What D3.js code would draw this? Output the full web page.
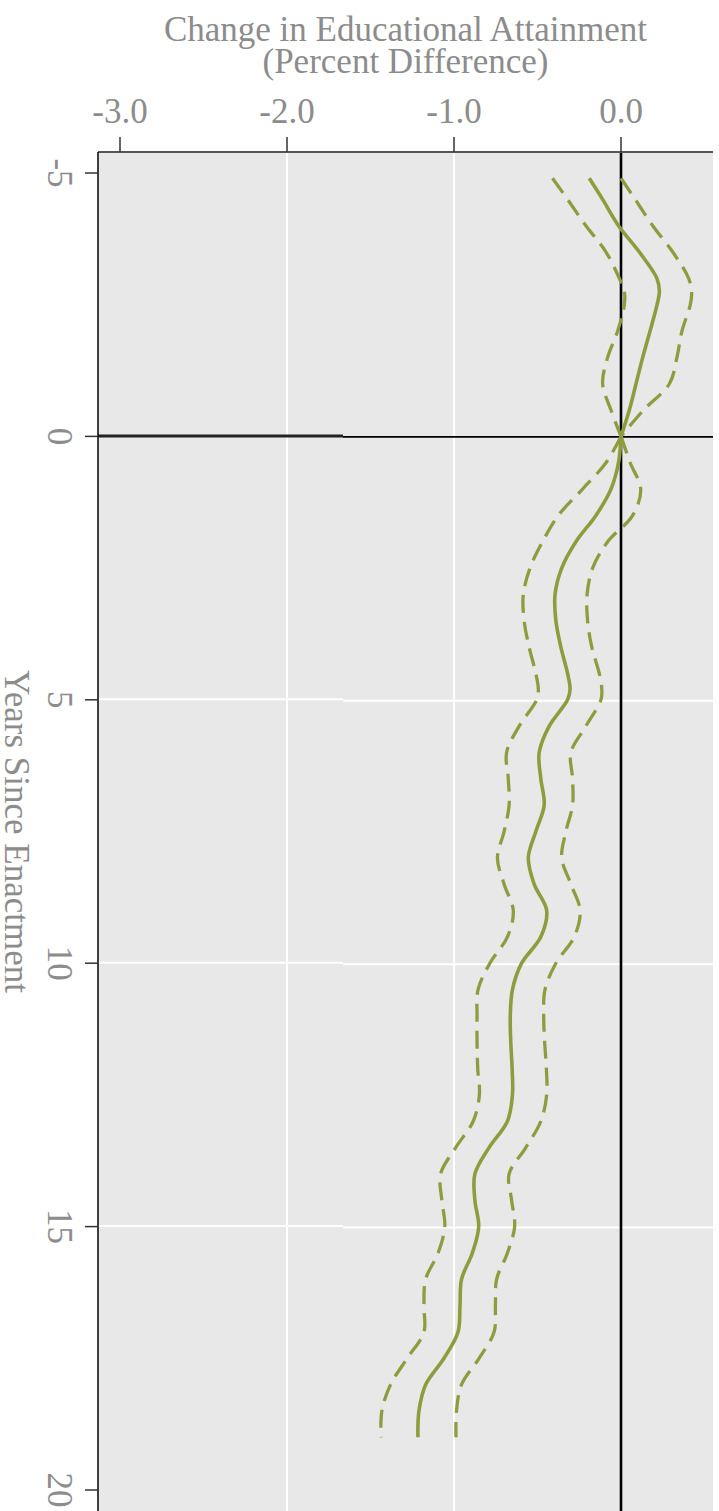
<!DOCTYPE html>
<html>
<head>
<meta charset="utf-8">
<script src="https://cdn.jsdelivr.net/npm/d3@7"></script>
<style>
  html, body { margin: 0; padding: 0; background: #ffffff; }
  svg { display: block; }
  text { font-family: "Liberation Serif", "Times New Roman", serif; fill: #8c8c8c; }
</style>
</head>
<body>
<svg id="chart" width="719" height="1511"></svg>
<script>
// ---------------- data ----------------
const years = [-4.9, -4.5, -4.0, -3.5, -3.0, -2.75, -2.5, -2.0, -1.5, -1.0, -0.5, 0,
  0.5, 1.0, 1.5, 2.0, 2.5, 3.0, 3.5, 4.0, 4.5, 4.8, 5.0, 5.5, 6.0, 6.5, 7.0, 7.5, 8.0, 8.5,
  9.0, 9.5, 10.0, 10.5, 11.0, 11.5, 12.0, 12.5, 13.0, 13.5, 14.0, 14.5, 15.0, 15.5, 16.0,
  16.5, 17.0, 17.5, 18.0, 18.5, 19.0];
const estimate = [-0.19, -0.11, -0.015, 0.11, 0.215, 0.23, 0.216, 0.174, 0.13, 0.09, 0.05, 0.0,
  -0.015, -0.06, -0.15, -0.27, -0.355, -0.395, -0.39, -0.36, -0.32, -0.305, -0.32, -0.43, -0.49, -0.48, -0.46, -0.51, -0.555, -0.52,
  -0.445, -0.48, -0.595, -0.65, -0.663, -0.66, -0.652, -0.65, -0.68, -0.79, -0.875, -0.875, -0.852, -0.89, -0.955,
  -0.964, -0.976, -1.06, -1.17, -1.21, -1.216];
const lower = [-0.41, -0.32, -0.21, -0.09, -0.01, 0.02, 0.02, -0.02, -0.08, -0.11, -0.06, 0.0,
  -0.09, -0.23, -0.375, -0.47, -0.545, -0.585, -0.58, -0.55, -0.51, -0.495, -0.505, -0.61, -0.685, -0.675, -0.67, -0.70, -0.74, -0.70,
  -0.645, -0.68, -0.785, -0.856, -0.862, -0.862, -0.858, -0.848, -0.885, -0.99, -1.08, -1.073, -1.055, -1.095, -1.17,
  -1.18, -1.18, -1.28, -1.38, -1.432, -1.437];
const upper = [0.0, 0.085, 0.19, 0.31, 0.405, 0.423, 0.415, 0.365, 0.335, 0.29, 0.135, 0.0,
  0.055, 0.118, 0.07, -0.08, -0.17, -0.203, -0.20, -0.175, -0.13, -0.115, -0.12, -0.21, -0.30, -0.29, -0.29, -0.33, -0.355, -0.30,
  -0.245, -0.28, -0.39, -0.455, -0.463, -0.457, -0.447, -0.445, -0.48, -0.57, -0.67, -0.655, -0.637, -0.68, -0.745,
  -0.752, -0.76, -0.85, -0.955, -0.985, -0.988];
const valueTicks = [-3.0, -2.0, -1.0, 0.0];
const valueTickLabels = ["-3.0", "-2.0", "-1.0", "0.0"];
const yearTicks = [-5, 0, 5, 10, 15, 20];
const yearTickLabels = ["-5", "0", "5", "10", "15", "20"];
const gridValues = [-2.0, -1.0];
const gridYears = [5, 10, 15];
const titleLines = ["Change in Educational Attainment", "(Percent Difference)"];
const yTitle = "Years Since Enactment";

// ---------------- layout ----------------
const svg = d3.select("#chart");
const plot = { left: 98, right: 713, top: 152, bottom: 1511 };
const x = d3.scaleLinear().domain([0, 1]).range([621, 788]);
const y = d3.scaleLinear().domain([-5, 20]).range([173, 1490]);
const olive = "#8f9c3e";
const fs = 35;

// background
svg.append("rect")
  .attr("x", plot.left).attr("y", plot.top)
  .attr("width", plot.right - plot.left).attr("height", plot.bottom - plot.top)
  .attr("fill", "#e8e8e8");

// vertical gridlines
svg.selectAll("line.vgrid").data(gridValues).enter().append("line")
  .attr("x1", d => x(d)).attr("x2", d => x(d))
  .attr("y1", plot.top).attr("y2", plot.bottom)
  .attr("stroke", "#ffffff").attr("stroke-width", 2);

// horizontal gridlines (rendered in two slightly offset pieces, as in the source)
const splitX = 343;
svg.selectAll("line.hgridL").data(gridYears).enter().append("line")
  .attr("x1", plot.left).attr("x2", splitX)
  .attr("y1", d => y(d) - 0.5).attr("y2", d => y(d) - 0.5)
  .attr("stroke", "#ffffff").attr("stroke-width", 2);
svg.selectAll("line.hgridR").data(gridYears).enter().append("line")
  .attr("x1", splitX).attr("x2", plot.right)
  .attr("y1", d => y(d) + 1).attr("y2", d => y(d) + 1)
  .attr("stroke", "#ffffff").attr("stroke-width", 2);

// zero lines
svg.append("line")
  .attr("x1", plot.left).attr("x2", splitX)
  .attr("y1", y(0) - 0.5).attr("y2", y(0) - 0.5)
  .attr("stroke", "#222").attr("stroke-width", 3);
svg.append("line")
  .attr("x1", splitX).attr("x2", plot.right)
  .attr("y1", y(0) + 0.5).attr("y2", y(0) + 0.5)
  .attr("stroke", "#000").attr("stroke-width", 1.6);
svg.append("line")
  .attr("x1", x(0)).attr("x2", x(0))
  .attr("y1", plot.top).attr("y2", plot.bottom)
  .attr("stroke", "#000").attr("stroke-width", 2.6);

// curves
const rows = years.map((t, i) => ({ t, est: estimate[i], lo: lower[i], hi: upper[i] }));
const pre = rows.filter(d => d.t <= 0);
const post = rows.filter(d => d.t >= 0);
function lineFor(key) {
  return d3.line().x(d => x(d[key])).y(d => y(d.t)).curve(d3.curveCatmullRom.alpha(0.5));
}
[pre, post].forEach(seg => {
  ["lo", "hi"].forEach(k => {
    svg.append("path").datum(seg)
      .attr("d", lineFor(k))
      .attr("fill", "none").attr("stroke", olive)
      .attr("stroke-width", 3.3).attr("stroke-dasharray", "18,9");
  });
  svg.append("path").datum(seg)
    .attr("d", lineFor("est"))
    .attr("fill", "none").attr("stroke", olive)
    .attr("stroke-width", 3.6);
});

// borders
svg.append("line")
  .attr("x1", plot.left).attr("x2", plot.right)
  .attr("y1", plot.top).attr("y2", plot.top)
  .attr("stroke", "#555").attr("stroke-width", 2);
svg.append("line")
  .attr("x1", plot.left).attr("x2", plot.left)
  .attr("y1", plot.top).attr("y2", plot.bottom)
  .attr("stroke", "#111").attr("stroke-width", 1.6);

// top axis
const topAxis = svg.append("g");
topAxis.selectAll("line").data(valueTicks).enter().append("line")
  .attr("x1", d => x(d)).attr("x2", d => x(d))
  .attr("y1", plot.top - 15).attr("y2", plot.top)
  .attr("stroke", "#333").attr("stroke-width", 1.5);
topAxis.selectAll("text").data(valueTicks).enter().append("text")
  .attr("x", d => x(d)).attr("y", 123)
  .attr("text-anchor", "middle")
  .style("font-size", fs + "px")
  .text((d, i) => valueTickLabels[i]);

// left axis
const leftAxis = svg.append("g");
leftAxis.selectAll("line").data(yearTicks).enter().append("line")
  .attr("x1", plot.left - 13).attr("x2", plot.left)
  .attr("y1", d => y(d)).attr("y2", d => y(d))
  .attr("stroke", "#333").attr("stroke-width", 1.5);
leftAxis.selectAll("text").data(yearTicks).enter().append("text")
  .attr("transform", d => `translate(48,${y(d)}) rotate(90)`)
  .attr("text-anchor", "middle")
  .style("font-size", fs + "px")
  .text((d, i) => yearTickLabels[i]);

// titles
svg.selectAll("text.title").data(titleLines).enter().append("text")
  .attr("class", "title")
  .attr("x", (plot.left + plot.right) / 2)
  .attr("y", (d, i) => 41 + i * 32)
  .attr("text-anchor", "middle")
  .style("font-size", fs + "px")
  .text(d => d);

svg.append("text")
  .attr("transform", `translate(5,${(plot.top + plot.bottom) / 2}) rotate(90)`)
  .attr("text-anchor", "middle")
  .style("font-size", fs + "px")
  .text(yTitle);
</script>
</body>
</html>
